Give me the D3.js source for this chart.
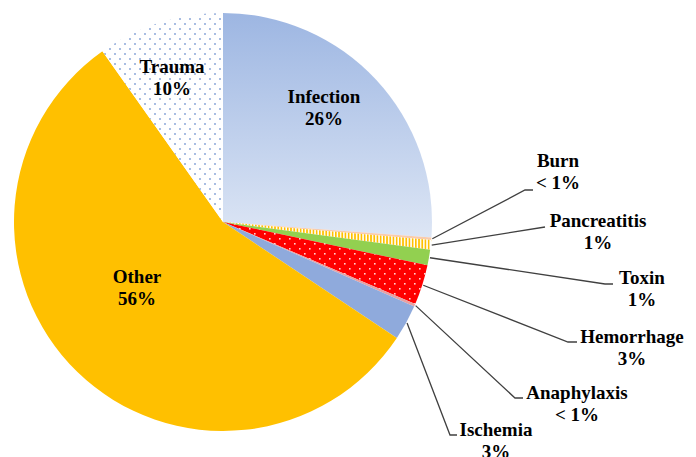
<!DOCTYPE html>
<html>
<head>
<meta charset="utf-8">
<script src="https://cdn.jsdelivr.net/npm/d3@7"></script>
<style>
    body { margin: 0; background: #fff; }
    svg { display: block; }
</style>
</head>
<body>
<div id="chart"></div>
<script>
//Data (percent of total)
const categories = ["Infection", "Burn", "Pancreatitis", "Toxin", "Hemorrhage", "Anaphylaxis", "Ischemia", "Other", "Trauma"];
const values = [26.2, 0.2, 0.75, 1.2, 3.1, 0.2, 2.75, 55.9, 9.8];
const pctLabels = ["26%", "< 1%", "1%", "1%", "3%", "< 1%", "3%", "56%", "10%"];

//Setup Dimensions
const width = 696;
const height = 457;
const cx = 223, cy = 222, radius = 209;

//Label layout: inside labels sit on the slice, outside labels get a leader line
const labelLayout = {
    Infection:   { x: 324, y: 103, inside: true },
    Trauma:      { x: 172, y: 73, inside: true },
    Other:       { x: 137, y: 283, inside: true },
    Burn:        { x: 558, y: 167, ex: 525, ey: 190, hx: 533 },
    Pancreatitis:{ x: 598, y: 227, ex: 545, ey: 227, hx: 545 },
    Toxin:       { x: 642, y: 284, ex: 605, ey: 284, hx: 613 },
    Hemorrhage:  { x: 632, y: 343, ex: 568, ey: 342, hx: 577 },
    Anaphylaxis: { x: 577, y: 399, ex: 515, ey: 398, hx: 523 },
    Ischemia:    { x: 496, y: 436, ex: 450, ey: 435, hx: 457 }
};

const svg = d3.select("#chart")
    .append("svg")
    .attr("width", width)
    .attr("height", height);

//Patterns and gradient
const defs = svg.append("defs");

const grad = defs.append("linearGradient")
    .attr("id", "infGrad")
    .attr("x1", 0).attr("y1", 0).attr("x2", 0).attr("y2", 1);
grad.append("stop").attr("offset", "0%").attr("stop-color", "#9db6e2");
grad.append("stop").attr("offset", "100%").attr("stop-color", "#dde6f5");

const dots = defs.append("pattern")
    .attr("id", "traumaDots")
    .attr("patternUnits", "userSpaceOnUse")
    .attr("width", 10).attr("height", 10);
dots.append("rect").attr("width", 10).attr("height", 10).attr("fill", "#fff");
dots.append("rect").attr("x", 1).attr("y", 1).attr("width", 2).attr("height", 2).attr("fill", "#a9bde2");
dots.append("rect").attr("x", 6).attr("y", 6).attr("width", 2).attr("height", 2).attr("fill", "#a9bde2");

const redDots = defs.append("pattern")
    .attr("id", "redDots")
    .attr("patternUnits", "userSpaceOnUse")
    .attr("width", 10).attr("height", 10);
redDots.append("rect").attr("width", 10).attr("height", 10).attr("fill", "#ff0000");
redDots.append("rect").attr("x", 1).attr("y", 1).attr("width", 1.6).attr("height", 1.6).attr("fill", "#ffd0d0");
redDots.append("rect").attr("x", 6).attr("y", 6).attr("width", 1.6).attr("height", 1.6).attr("fill", "#ffd0d0");

const stripes = defs.append("pattern")
    .attr("id", "stripes")
    .attr("patternUnits", "userSpaceOnUse")
    .attr("width", 3.2).attr("height", 10);
stripes.append("rect").attr("width", 3.2).attr("height", 10).attr("fill", "#fff");
stripes.append("rect").attr("width", 1.7).attr("height", 10).attr("fill", "#ffc000");

const fills = {
    Infection: "url(#infGrad)",
    Burn: "#f8cbad",
    Pancreatitis: "url(#stripes)",
    Toxin: "#92d050",
    Hemorrhage: "url(#redDots)",
    Anaphylaxis: "#e9a0a0",
    Ischemia: "#8faadc",
    Other: "#ffc000",
    Trauma: "url(#traumaDots)"
};

const rows = categories.map((c, i) => ({ name: c, value: values[i], pct: pctLabels[i] }));

//Pie Generator
const pie = d3.pie()
    .sort(null)
    .value(d => d.value);
const arc = d3.arc()
    .innerRadius(0)
    .outerRadius(radius);

const arcs = pie(rows);

const g = svg.append("g").attr("transform", `translate(${cx}, ${cy})`);

g.selectAll("path.slice")
    .data(arcs)
    .enter().append("path")
    .attr("class", "slice")
    .attr("d", arc)
    .attr("fill", d => fills[d.data.name]);

//Leader lines
const outside = arcs.filter(d => !labelLayout[d.data.name].inside);
svg.selectAll("polyline.leader")
    .data(outside)
    .enter().append("polyline")
    .attr("class", "leader")
    .attr("fill", "none")
    .attr("stroke", "#404040")
    .attr("stroke-width", 1.3)
    .attr("points", d => {
        const L = labelLayout[d.data.name];
        const a = (d.startAngle + d.endAngle) / 2;
        const s = [cx + Math.sin(a) * (radius + 1), cy - Math.cos(a) * (radius + 1)];
        return [s, [L.ex, L.ey], [L.hx, L.ey]].map(p => p.join(",")).join(" ");
    });

//Labels
const labels = svg.selectAll("text.lbl")
    .data(arcs)
    .enter().append("text")
    .attr("class", "lbl")
    .style("font-family", "'Liberation Serif', 'Times New Roman', 'DejaVu Serif', serif")
    .style("font-weight", "bold")
    .style("font-size", "19px")
    .attr("fill", "#000")
    .attr("text-anchor", "middle")
    .attr("x", d => labelLayout[d.data.name].x)
    .attr("y", d => labelLayout[d.data.name].y);
labels.append("tspan")
    .attr("x", d => labelLayout[d.data.name].x)
    .text(d => d.data.name);
labels.append("tspan")
    .attr("x", d => labelLayout[d.data.name].x)
    .attr("dy", 22)
    .text(d => d.data.pct);
</script>
</body>
</html>
